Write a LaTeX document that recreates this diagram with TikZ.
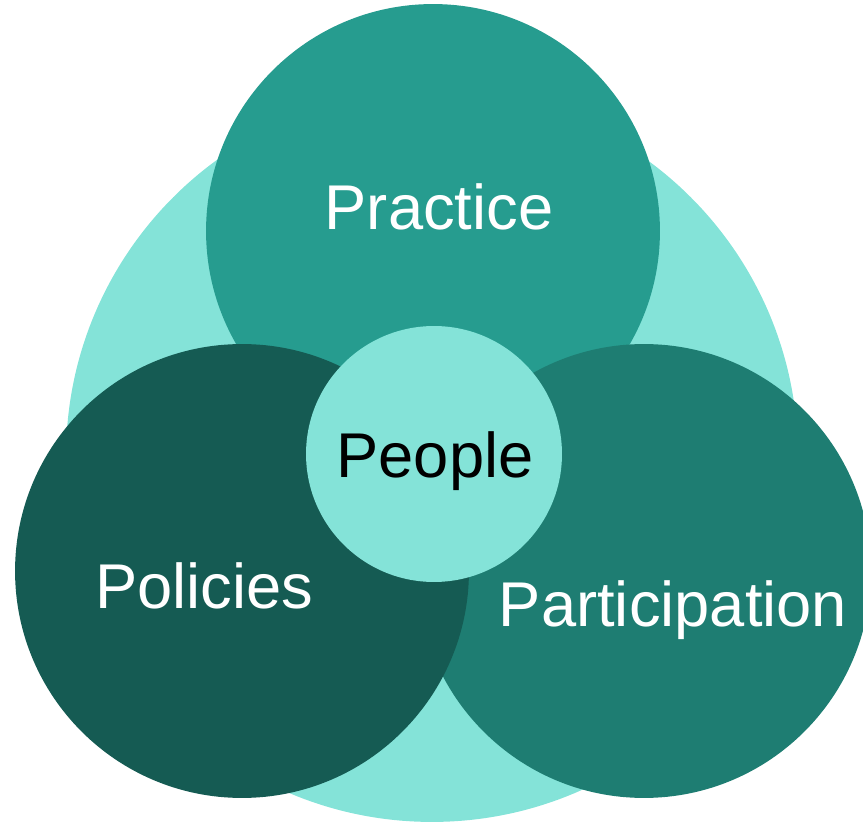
\documentclass[tikz,border=0pt]{standalone}
\usepackage{fontspec}
\setmainfont{Liberation Sans}
\usetikzlibrary{positioning}

\definecolor{lightteal}{HTML}{84E3D8}
\definecolor{practiceteal}{HTML}{269C8F}
\definecolor{partteal}{HTML}{1E7D72}
\definecolor{policyteal}{HTML}{155B53}

\tikzset{
    disc/.style={circle, inner sep=0pt, draw=none},
    bigtext/.style={anchor=base, font=\fontsize{36}{40}\selectfont, text=white}
}

\begin{document}
\begin{tikzpicture}[x=0.02cm, y=-0.02cm]
    \useasboundingbox (0,0) rectangle (863,824);
    \clip (0,0) rectangle (863,824);
    \begin{scope}
        % Background circle
        \node [disc, fill=lightteal, minimum size=14.64cm] (back) at (432,456) {};

        % Outer circles
        \node [disc, fill=practiceteal, minimum size=9.08cm] (practice) at (433,231) {};
        \node [disc, fill=partteal, minimum size=9.08cm] (participation) at (644,571) {};
        \node [disc, fill=policyteal, minimum size=9.08cm] (policies) at (242,571) {};

        % Centre circle
        \node [disc, fill=lightteal, minimum size=5.12cm] (people) at (434,454) {};

        % Labels
        \node [bigtext] (practicetext) at (439,230) {Practice};
        \node [bigtext] (policiestext) at (204,608) {Policies};
        \node [bigtext] (participationtext) at (673,626) {Participation};
        \node [bigtext, text=black] (peopletext) at (435,478) {People};
    \end{scope}
\end{tikzpicture}
\end{document}
